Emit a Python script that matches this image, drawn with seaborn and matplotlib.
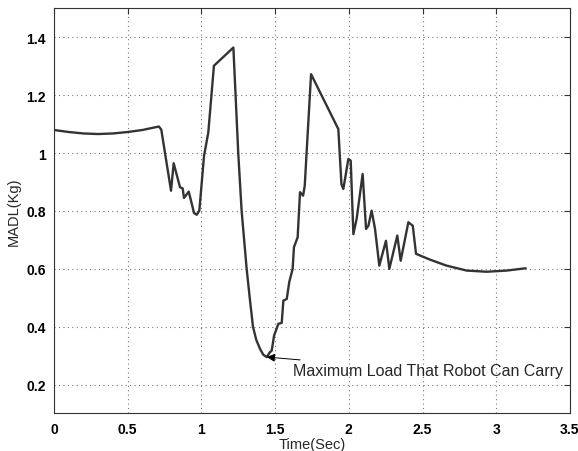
import matplotlib
matplotlib.use("Agg")
import matplotlib.pyplot as plt
import seaborn as sns
import pandas as pd

time_sec = [0, 0.1, 0.2, 0.3, 0.4, 0.5, 0.6, 0.712, 0.728, 0.794, 0.812, 0.855, 0.873,
            0.882, 0.914, 0.927, 0.95, 0.968, 0.986, 1.018, 1.047, 1.085, 1.217, 1.25,
            1.273, 1.29, 1.307, 1.33, 1.35, 1.372, 1.398, 1.42, 1.443, 1.465, 1.477,
            1.493, 1.522, 1.545, 1.556, 1.579, 1.596, 1.619, 1.628, 1.653, 1.669, 1.69,
            1.701, 1.744, 1.929, 1.95, 1.963, 1.997, 2.013, 2.031, 2.053, 2.094, 2.117,
            2.133, 2.155, 2.178, 2.207, 2.252, 2.275, 2.329, 2.352, 2.404, 2.434, 2.456,
            2.55, 2.664, 2.8, 2.935, 3.07, 3.2]
madl_kg = [1.08, 1.073, 1.068, 1.066, 1.068, 1.073, 1.08, 1.092, 1.081, 0.87, 0.965,
           0.882, 0.878, 0.845, 0.867, 0.841, 0.793, 0.787, 0.801, 0.991, 1.072, 1.302,
           1.365, 1.0, 0.8, 0.7, 0.6, 0.49, 0.4, 0.355, 0.323, 0.303, 0.295, 0.312,
           0.317, 0.369, 0.41, 0.413, 0.49, 0.496, 0.554, 0.60, 0.675, 0.709, 0.865,
           0.853, 0.887, 1.273, 1.083, 0.893, 0.876, 0.98, 0.974, 0.72, 0.772, 0.928,
           0.738, 0.749, 0.801, 0.738, 0.611, 0.697, 0.60, 0.715, 0.628, 0.761, 0.749,
           0.652, 0.632, 0.611, 0.594, 0.59, 0.594, 0.602]

x_ticks = [0, 0.5, 1, 1.5, 2, 2.5, 3, 3.5]
x_tick_labels = ["0", "0.5", "1", "1.5", "2", "2.5", "3", "3.5"]
y_ticks = [0.2, 0.4, 0.6, 0.8, 1.0, 1.2, 1.4]
y_tick_labels = ["0.2", "0.4", "0.6", "0.8", "1", "1.2", "1.4"]

annot_text = "Maximum Load That Robot Can Carry"
annot_point = (1.443, 0.295)
annot_text_pos = (1.622, 0.248)

sns.set_theme(style="white")
plt.rcParams["font.family"] = ["Liberation Sans", "DejaVu Sans"]

df = pd.DataFrame({"Time": time_sec, "MADL": madl_kg})

fig = plt.figure(figsize=(5.78, 4.52), dpi=100)
ax = fig.add_axes([0.0934, 0.083, 0.8926, 0.896])

sns.lineplot(data=df, x="Time", y="MADL", ax=ax, sort=False, color="#333333",
             linewidth=1.7, estimator=None)

ax.set_xlim(0, 3.5)
ax.set_ylim(0.1, 1.5)
ax.set_xticks(x_ticks)
ax.set_xticklabels(x_tick_labels, fontweight="bold", fontsize=10)
ax.set_yticks(y_ticks)
ax.set_yticklabels(y_tick_labels, fontweight="bold", fontsize=10)
ax.tick_params(direction="in", length=4, width=0.8, top=True, right=True,
               colors="#333333", labelcolor="black", pad=6)
ax.grid(True, linestyle=(0, (1, 3)), color="#777777", linewidth=0.8)
for s in ax.spines.values():
    s.set_color("#333333")
    s.set_linewidth(0.8)

ax.set_xlabel("Time(Sec)", fontsize=10.5, labelpad=1)
ax.set_ylabel("MADL(Kg)", fontsize=10.5, labelpad=4)

ax.annotate(annot_text, xy=annot_point, xytext=annot_text_pos,
            fontsize=11.5, va="center", ha="left",
            arrowprops=dict(arrowstyle="-|>", color="black", lw=0.7,
                            mutation_scale=12, shrinkA=0, shrinkB=0))

fig.savefig("out.png", dpi=100)
